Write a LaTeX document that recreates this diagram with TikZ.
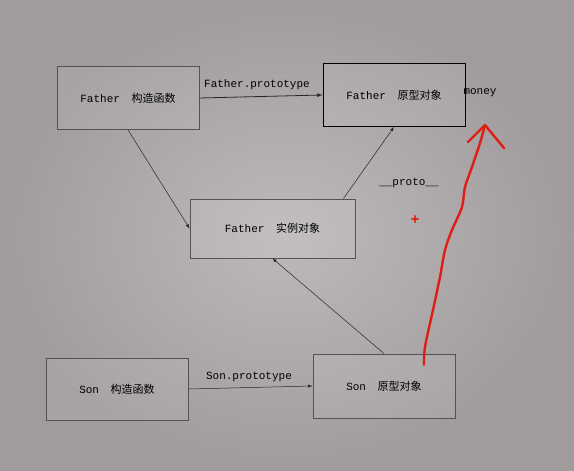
\documentclass[tikz,border=0pt]{standalone}
\usepackage{fontspec}
\setmainfont{Liberation Mono}
\newfontfamily\cjk{Noto Sans CJK SC}
\usetikzlibrary {positioning}

\definecolor{bgmid}{RGB}{190,186,188}
\definecolor{bgedge}{RGB}{160,155,157}
\definecolor{boxline}{RGB}{85,82,84}
\definecolor{inkred}{RGB}{222,30,20}

\newcommand{\cjkgap}{\hspace{5pt}}

\tikzset{
  box/.style={rectangle, draw=boxline, line width=0.9pt, fill=white, fill opacity=0.08, text opacity=1,
    minimum width=142pt, minimum height=63pt, inner sep=0pt, font=\fontsize{11}{13}\selectfont},
  lbl/.style={inner sep=0pt, font=\fontsize{11}{13}\selectfont},
  link/.style={->, draw=black!85, line width=0.5pt},
}

\begin{document}
\begin{tikzpicture}[x=1pt, y=-1pt, >=latex]
\useasboundingbox (0,0) rectangle (574,471);
\shade [inner color=bgmid, outer color=bgedge] (0,0) rectangle (574,471);

%father side
\node [box] (fctor) at (128,98) {Father \cjkgap{\cjk 构造函数}};
\node [box, draw=black] (fproto) at (394,95) {Father \cjkgap{\cjk 原型对象}};
\node [box, minimum width=165pt, minimum height=59pt] (finst) at (272.5,228.5) {Father \cjkgap{\cjk 实例对象}};

%son side
\node [box, minimum height=62pt] (sctor) at (117,389) {Son \cjkgap{\cjk 构造函数}};
\node [box, minimum height=64pt] (sproto) at (384,386) {Son \cjkgap{\cjk 原型对象}};

%labels
\node [lbl] (fplbl) at (257,85) {Father.prototype};
\node [lbl] (splbl) at (249,377) {Son.prototype};
\node [lbl] (money) at (480,93) {money};
\node [lbl] (protolbl) at (409,183) {\_\_proto\_\_};
\node [lbl, text=inkred, font=\fontsize{15}{15}\bfseries] (plus) at (415,220) {+};

%links
\draw [link, line width=0.8pt] (fctor.east) to (fproto.west);
\draw [link] (fctor.south) to (finst.west);
\draw [link] ([xshift=-12pt]finst.north east) to (fproto.south);
\draw [link] (sproto.north) to (finst.south);
\draw [link] (sctor.east) to (sproto.west);

%red mark
\coordinate (redstart) at (424,365);
\coordinate (redtip) at (485,125);
\draw [inkred, line width=2.4pt, line cap=round, line join=round]
  plot [smooth] coordinates {(redstart) (425,347) (433,310) (440,277) (445,250) (452,230) (462,207) (465,187) (472,167) (480,143) (redtip)};
\draw [inkred, line width=2.4pt, line cap=round, line join=round]
  (468,142) -- (redtip) -- (504,148);

\end{tikzpicture}
\end{document}
